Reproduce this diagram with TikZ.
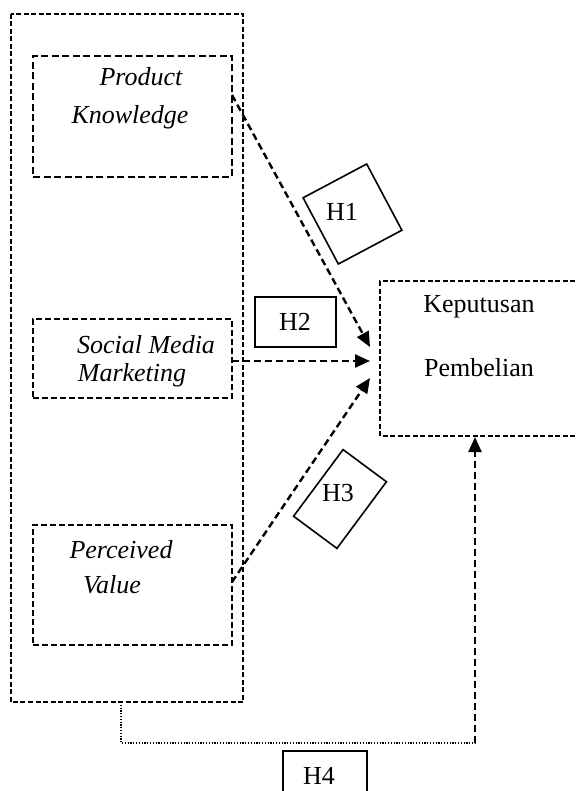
\documentclass[tikz,border=0pt]{standalone}
\usepackage{fontspec}
\setmainfont{Liberation Serif}
\usetikzlibrary{arrows.meta,calc}
\begin{document}
\begin{tikzpicture}[x=1pt,y=-1pt,
  txt/.style={font=\fontsize{26}{30}\selectfont, inner sep=0pt, anchor=center},
  itxt/.style={txt, font=\fontsize{26}{30}\selectfont\itshape},
  outerbox/.style={draw, line width=1.5pt, dash pattern=on 5pt off 2.5pt},
  varbox/.style={draw, line width=2.3pt, dash pattern=on 7pt off 3.5pt},
  varboxthin/.style={draw, line width=1.7pt, dash pattern=on 6pt off 3pt},
  hbox/.style={draw, line width=1.6pt, inner sep=0pt},
  arr/.style={line width=2.4pt, dash pattern=on 7pt off 4pt, -{Triangle[length=15pt,width=13pt]}},
  dotline/.style={line width=1.4pt, dash pattern=on 1.2pt off 1.6pt}]
\useasboundingbox (0,0) rectangle (576,791);
\fill[white] (0,0) rectangle (576,791);

% outer group box
\draw[outerbox] (11,14) rectangle (243,702);
\coordinate (outerbottom) at (121,702);

% variable boxes
\node[varbox, minimum width=199, minimum height=121] (pk) at (132.5,116.5) {};
\node[varboxthin, minimum width=199, minimum height=79] (smm) at (132.5,358.5) {};
\node[varboxthin, minimum width=199, minimum height=120] (pv) at (132.5,585) {};

\node[itxt] (pkt1) at (141,77) {Product};
\node[itxt] (pkt2) at (130,117) {Knowledge};
\node[itxt] (smmt1) at (146,345) {Social Media};
\node[itxt] (smmt2) at (132,375) {Marketing};
\node[itxt] (pvt1) at (121,550) {Perceived};
\node[itxt] (pvt2) at (112,585) {Value};

% dependent variable box
\draw[outerbox] (590,281) -- (380,281) -- (380,436) -- (590,436);
\node[minimum width=210, minimum height=155, inner sep=0pt] (kp) at (485,358.5) {};
\node[txt] (kpt1) at (479,307) {Keputusan};
\node[txt] (kpt2) at (479,368) {Pembelian};

% hypothesis boxes
\node[hbox, rotate=28, minimum width=72, minimum height=75] (h1) at (352.5,214) {};
\node[txt] (h1t) at (342,212) {H1};
\node[hbox, minimum width=81, minimum height=50] (h2) at (295.5,322) {};
\node[txt] (h2t) at (295,322) {H2};
\node[hbox, rotate=-36.6, minimum width=54, minimum height=83] (h3) at (340,499) {};
\node[txt] (h3t) at (338,493) {H3};
\node[hbox, minimum width=84, minimum height=80] (h4) at (325,791) {};
\node[txt] (h4t) at (319,776) {H4};

% arrows
\coordinate (a1s) at (232,95);
\coordinate (a1e) at (370,347);
\coordinate (a2s) at (232,361);
\coordinate (a2e) at (370,361);
\coordinate (a3s) at (232,582);
\coordinate (a3e) at (370,378);
\coordinate (a4c) at (121,743);
\coordinate (a4d) at (475,743);
\coordinate (a4e) at (475,437);

\draw[arr] (a1s) -- (a1e);
\draw[arr] (a2s) -- (a2e);
\draw[arr] (a3s) -- (a3e);
\draw[dotline] (outerbottom) -- (a4c) -- (a4d);
\draw[arr] (a4d) -- (a4e);
\end{tikzpicture}
\end{document}
